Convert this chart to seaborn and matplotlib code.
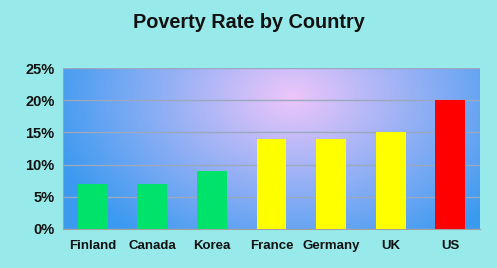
import numpy as np
import pandas as pd
import matplotlib
matplotlib.use("Agg")
import matplotlib.pyplot as plt
from matplotlib.colors import to_rgb
from matplotlib.ticker import FuncFormatter
import seaborn as sns

countries = ["Finland", "Canada", "Korea", "France", "Germany", "UK", "US"]
rates = [7, 7, 9, 14, 14, 15, 20]
bar_colors = ["#00E36A", "#00E36A", "#00E36A", "#FFFF00", "#FFFF00", "#FFFF00", "#FF0000"]
yticks = [0, 5, 10, 15, 20, 25]

sns.set_style("white")
plt.rcParams['font.family'] = ['Liberation Sans', 'DejaVu Sans']

df = pd.DataFrame({"country": countries, "rate": rates})

fig = plt.figure(figsize=(4.97, 2.68), dpi=100, facecolor="#98EAEA")
ax = fig.add_axes([63/497, 1-229/268, (480-63)/497, (229-68)/268])

# radial gradient background
ny, nx = 200, 400
xx, yy = np.meshgrid(np.linspace(0, 1, nx), np.linspace(0, 1, ny))
cx, cy = 0.55, 0.82
r = np.sqrt(((xx - cx) * 1.0) ** 2 + ((yy - cy) * 0.55) ** 2)
r = np.clip(r / 0.6, 0, 1)
c0 = np.array(to_rgb("#EDC6FA"))
c1 = np.array(to_rgb("#3B9AF0"))
img = c0[None, None, :] * (1 - r[..., None]) + c1[None, None, :] * r[..., None]
ax.imshow(img, extent=[-0.5, 6.5, 0, 25], origin="lower", aspect="auto", zorder=0)

sns.barplot(data=df, x="country", y="rate", hue="country", palette=bar_colors,
            width=0.5, legend=False, ax=ax, saturation=1, zorder=3,
            linewidth=0, edgecolor="none")

ax.set_xlim(-0.5, 6.5)
ax.set_ylim(0, 25)
ax.set_yticks(yticks)
ax.yaxis.set_major_formatter(FuncFormatter(lambda v, p: f"{int(v)}%"))
ax.grid(axis="y", color="#9AA8C0", linewidth=1, zorder=1)
ax.set_axisbelow(False)
for line in ax.get_ygridlines():
    line.set_zorder(1)
ax.set_xlabel("")
ax.set_ylabel("")
ax.set_xticks(np.arange(-0.5, 7, 1), minor=True)
ax.tick_params(axis="x", which="major", length=0, pad=8, labelsize=9.5, labelcolor="#111111")
ax.tick_params(axis="x", which="minor", length=4, color="#A0A0A0", width=0.8, direction="out")
ax.tick_params(axis="y", length=4, color="#A0A0A0", width=0.8, labelsize=10.5, pad=2,
               direction="out", labelcolor="#111111")
for lab in ax.get_xticklabels() + ax.get_yticklabels():
    lab.set_fontweight("bold")
for s in ax.spines.values():
    s.set_visible(False)
ax.spines["left"].set_visible(True)
ax.spines["left"].set_color("#A0A0A0")
ax.spines["bottom"].set_visible(True)
ax.spines["bottom"].set_color("#A0A0A0")

fig.text(0.5, 1 - 22/268, "Poverty Rate by Country", ha="center", va="center",
         fontsize=14.3, fontweight="bold", color="#111111")

fig.savefig("out.png", dpi=100, facecolor=fig.get_facecolor())
